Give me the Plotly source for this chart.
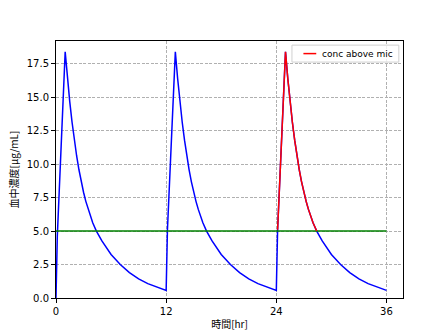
import plotly.graph_objects as go

# time [hr] and blood concentration [ug/mL]
time_hr = [0, 0.14, 1, 1.25, 1.5, 1.75, 2, 2.25, 2.5, 2.75, 3, 3.25, 3.5, 3.75, 4, 4.4, 5, 6, 7, 8, 9, 10, 11, 12,
           12.14, 13, 13.25, 13.5, 13.75, 14, 14.25, 14.5, 14.75, 15, 15.25, 15.5, 15.75, 16, 16.4, 17,
           18, 19, 20, 21, 22, 23, 24,
           24.14, 25, 25.25, 25.5, 25.75, 26, 26.25, 26.5, 26.75, 27, 27.25, 27.5, 27.75, 28, 28.4, 29,
           30, 31, 32, 33, 34, 35, 36]
conc = [0, 4.6, 18.4, 16.4, 14.65, 13.13, 11.79, 10.61, 9.58, 8.68, 7.9, 7.22, 6.62, 6.09, 5.62, 5.0, 4.26,
        3.25, 2.5, 1.9, 1.43, 1.07, 0.8, 0.57,
        5.1, 18.4, 16.4, 14.65, 13.13, 11.79, 10.61, 9.58, 8.68, 7.9, 7.22, 6.62, 6.09, 5.62, 5.0, 4.26,
        3.25, 2.5, 1.9, 1.43, 1.07, 0.8, 0.57,
        5.1, 18.4, 16.4, 14.65, 13.13, 11.79, 10.61, 9.58, 8.68, 7.9, 7.22, 6.62, 6.09, 5.62, 5.0, 4.26,
        3.25, 2.5, 1.9, 1.43, 1.07, 0.8, 0.57]
mic = 5.0
mic_span = [0, 36]
highlight_from = 24
legend_label = "conc above mic"
x_ticks = [0, 12, 24, 36]
y_ticks = [0, 2.5, 5, 7.5, 10, 12.5, 15, 17.5]

red_conc = [c if (t >= highlight_from and c >= mic) else None for t, c in zip(time_hr, conc)]

fig = go.Figure()
fig.add_trace(go.Scatter(x=time_hr, y=conc, mode="lines",
                         line=dict(color="#0000ff", width=1.5), showlegend=False))
fig.add_trace(go.Scatter(x=mic_span, y=[mic, mic], mode="lines",
                         line=dict(color="#008000", width=1.5), showlegend=False))
fig.add_trace(go.Scatter(x=time_hr, y=red_conc, mode="lines", name=legend_label,
                         line=dict(color="#ff0000", width=1.5), connectgaps=False,
                         showlegend=False))

# compact matplotlib-like legend
fig.add_shape(type="rect", xref="paper", yref="paper", x0=0.680, x1=0.988, y0=0.918, y1=0.984,
              line=dict(color="#d0d0d0", width=1), fillcolor="rgba(255,255,255,0.8)", layer="above")
fig.add_shape(type="line", xref="paper", yref="paper", x0=0.713, x1=0.750, y0=0.951, y1=0.951,
              line=dict(color="#ff0000", width=1.5), layer="above")
fig.add_annotation(text=legend_label, xref="paper", yref="paper", x=0.762, y=0.951,
                   xanchor="left", yanchor="middle", showarrow=False,
                   font=dict(family="DejaVu Sans", size=9, color="black"))

tick_font = dict(family="DejaVu Sans", size=10, color="black")
jp_font = dict(family="Noto Sans CJK JP", size=10, color="black")
grid_dash = "3px,1.5px"

fig.update_layout(
    width=448, height=336,
    margin=dict(l=56, r=45, t=41, b=38),
    paper_bgcolor="white", plot_bgcolor="white",
    showlegend=False,
    xaxis=dict(range=[0, 37.8], tickvals=x_ticks, ticks="outside", ticklen=4, tickcolor="black",
               showline=True, linecolor="black", linewidth=1, mirror=True,
               showgrid=True, gridcolor="#b0b0b0", gridwidth=0.8, griddash=grid_dash,
               zeroline=False, tickfont=tick_font, automargin=False,
               title=dict(text="時間[hr]", font=jp_font, standoff=4)),
    yaxis=dict(range=[0, 19.2], tickvals=y_ticks, tickformat=".1f", ticks="outside", ticklen=4,
               tickcolor="black",
               showline=True, linecolor="black", linewidth=1, mirror=True,
               showgrid=True, gridcolor="#b0b0b0", gridwidth=0.8, griddash=grid_dash,
               zeroline=False, tickfont=tick_font, automargin=False,
               title=dict(text="血中濃度[μg/mL]", font=jp_font, standoff=6)),
)

fig.write_html("out.html")
